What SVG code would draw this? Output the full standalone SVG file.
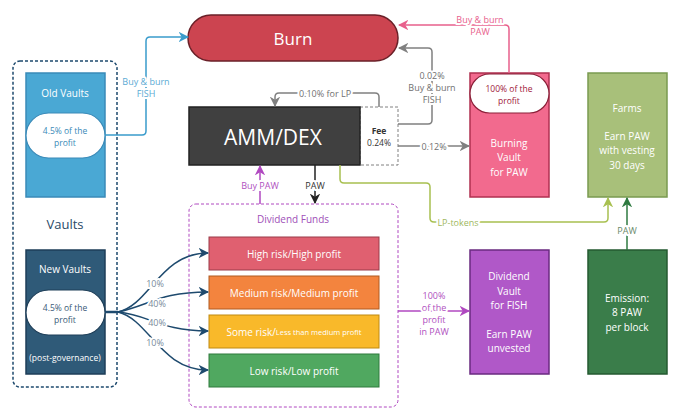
<svg xmlns="http://www.w3.org/2000/svg" width="680" height="420" viewBox="0 0 680 420">
<defs>
<style>
text{font-family:"Open Sans","Noto Sans","DejaVu Sans",sans-serif;text-anchor:middle;dominant-baseline:central}
.w{fill:#fff}
.lbl{font-size:9px;paint-order:stroke;stroke:#fff;stroke-width:4px;stroke-linejoin:round}
.box{stroke-width:1.5}
</style>
<marker id="aBlue" viewBox="0 0 10 10" refX="9" refY="5" markerWidth="7" markerHeight="7" orient="auto-start-reverse"><path d="M0,0 L10,5 L0,10 L3,5 z" fill="#3a9ccc"/></marker>
<marker id="aGray" viewBox="0 0 10 10" refX="9" refY="5" markerWidth="7" markerHeight="7" orient="auto-start-reverse"><path d="M0,0 L10,5 L0,10 L3,5 z" fill="#808080"/></marker>
<marker id="aPink" viewBox="0 0 10 10" refX="9" refY="5" markerWidth="7" markerHeight="7" orient="auto-start-reverse"><path d="M0,0 L10,5 L0,10 L3,5 z" fill="#e8608c"/></marker>
<marker id="aPurple" viewBox="0 0 10 10" refX="9" refY="5" markerWidth="7" markerHeight="7" orient="auto-start-reverse"><path d="M0,0 L10,5 L0,10 L3,5 z" fill="#b048c0"/></marker>
<marker id="aBlack" viewBox="0 0 10 10" refX="9" refY="5" markerWidth="7" markerHeight="7" orient="auto-start-reverse"><path d="M0,0 L10,5 L0,10 L3,5 z" fill="#222"/></marker>
<marker id="aNavy" viewBox="0 0 10 10" refX="9" refY="5" markerWidth="7" markerHeight="7" orient="auto-start-reverse"><path d="M0,0 L10,5 L0,10 L3,5 z" fill="#1e4a6e"/></marker>
<marker id="aLime" viewBox="0 0 10 10" refX="9" refY="5" markerWidth="7" markerHeight="7" orient="auto-start-reverse"><path d="M0,0 L10,5 L0,10 L3,5 z" fill="#a8c050"/></marker>
<marker id="aGreen" viewBox="0 0 10 10" refX="9" refY="5" markerWidth="7" markerHeight="7" orient="auto-start-reverse"><path d="M0,0 L10,5 L0,10 L3,5 z" fill="#2e7a40"/></marker>
</defs>
<rect width="680" height="420" fill="#fff"/>

<g id="vaults-group">
<rect x="13" y="61" width="104" height="326" rx="7" fill="none" stroke="#1e4a6e" stroke-width="1.5" stroke-dasharray="3,2"/>
<text x="65" y="224" font-size="13" fill="#2a4a68">Vaults</text>
</g>

<g id="old-vaults">
<rect x="26" y="73" width="79" height="124" fill="#4aa8d4" stroke="#3a8ab8" class="box"/>
<text x="65" y="93" font-size="10" class="w">Old Vaults</text>
<rect x="26" y="113" width="79" height="45" rx="22.5" fill="#fff" stroke="#3a8ab8" stroke-width="1.2"/>
<text x="65" y="130" font-size="8.5" fill="#3a8ab8">4.5% of the</text>
<text x="65" y="142" font-size="8.5" fill="#3a8ab8">profit</text>
</g>

<g id="new-vaults">
<rect x="26" y="250" width="79" height="124" fill="#2f5a78" stroke="#1e3e58" class="box"/>
<text x="65" y="269" font-size="10" class="w">New Vaults</text>
<rect x="26" y="290" width="79" height="45" rx="22.5" fill="#fff" stroke="#1e3e58" stroke-width="1.2"/>
<text x="65" y="307" font-size="8.5" fill="#3a5a78">4.5% of the</text>
<text x="65" y="319" font-size="8.5" fill="#3a5a78">profit</text>
<text x="65" y="357" font-size="8.5" class="w">(post-governance)</text>
</g>

<g id="burn">
<rect x="188" y="15" width="210" height="46" rx="23" fill="#cc4450" stroke="#6a2028" class="box"/>
<text x="293" y="38" font-size="17" class="w">Burn</text>
</g>

<g id="amm-dex">
<rect x="360" y="107" width="38" height="58" fill="#fff" stroke="#808080" stroke-width="1" stroke-dasharray="3,2"/>
<rect x="189" y="107" width="171" height="58" fill="#404040" stroke="#222" class="box"/>
<text x="273" y="137" font-size="21" class="w">AMM/DEX</text>
<text x="379" y="130" font-size="8.5" fill="#333" font-weight="bold">Fee</text>
<text x="379" y="142" font-size="8.5" fill="#333">0.24%</text>
</g>

<g id="burning-vault">
<rect x="470" y="73" width="79" height="124" fill="#f26a8e" stroke="#b03050" class="box"/>
<rect x="470" y="74" width="79" height="39" rx="19.5" fill="#fff" stroke="#8a2038" stroke-width="1.2"/>
<text x="509" y="88" font-size="8.5" fill="#a0203a">100% of the</text>
<text x="509" y="100" font-size="8.5" fill="#a0203a">profit</text>
<text x="509" y="143" font-size="10" class="w">Burning</text>
<text x="509" y="157" font-size="10" class="w">Vault</text>
<text x="509" y="172" font-size="10" class="w">for PAW</text>
</g>

<g id="farms">
<rect x="588" y="73" width="79" height="124" fill="#a8c07a" stroke="#7a9a50" class="box"/>
<text x="627" y="108" font-size="10" class="w">Farms</text>
<text x="627" y="136" font-size="10" class="w">Earn PAW</text>
<text x="627" y="150" font-size="10" class="w">with vesting</text>
<text x="627" y="165" font-size="10" class="w">30 days</text>
</g>

<g id="emission">
<rect x="588" y="250" width="79" height="124" fill="#3a7d4a" stroke="#245a30" class="box"/>
<text x="627" y="298" font-size="10" class="w">Emission:</text>
<text x="627" y="312" font-size="10" class="w">8 PAW</text>
<text x="627" y="327" font-size="10" class="w">per block</text>
</g>

<g id="dividend-vault">
<rect x="470" y="250" width="79" height="124" fill="#b058c8" stroke="#6a2a80" class="box"/>
<text x="509" y="276" font-size="10" class="w">Dividend</text>
<text x="509" y="291" font-size="10" class="w">Vault</text>
<text x="509" y="305" font-size="10" class="w">for FISH</text>
<text x="509" y="334" font-size="10" class="w">Earn PAW</text>
<text x="509" y="348" font-size="10" class="w">unvested</text>
</g>

<g id="dividend-funds">
<rect x="189" y="204" width="209" height="203" rx="7" fill="none" stroke="#b048c0" stroke-width="1" stroke-dasharray="3,2"/>
<text x="293" y="219" font-size="10" fill="#a050b8">Dividend Funds</text>
</g>
<g id="high-risk">
<rect x="209" y="237" width="170" height="33" fill="#e06070" stroke="#9a3a48" stroke-width="1"/>
<text x="294" y="253.5" font-size="10" class="w">High risk/High profit</text>
</g>
<g id="medium-risk">
<rect x="209" y="276" width="170" height="33" fill="#f3843e" stroke="#b05a20" stroke-width="1"/>
<text x="294" y="292.5" font-size="10" class="w">Medium risk/Medium profit</text>
</g>
<g id="some-risk">
<rect x="209" y="315" width="170" height="33" fill="#f9b92a" stroke="#c08a10" stroke-width="1"/>
<text x="294" y="331.5" font-size="10" class="w">Some risk/<tspan font-size="7.5">Less than medium profit</tspan></text>
</g>
<g id="low-risk">
<rect x="209" y="354" width="170" height="33" fill="#50a860" stroke="#2e7a3c" stroke-width="1"/>
<text x="294" y="370.5" font-size="10" class="w">Low risk/Low profit</text>
</g>

<g id="connectors" fill="none" stroke-width="1.5">
<path d="M105,135 H142 Q146,135 146,131 V41 Q146,37 150,37 H188" stroke="#3a9ccc" marker-end="url(#aBlue)"/>
<path d="M379,107 V97 Q379,93 375,93 H279 Q275,93 275,97 V106" stroke="#808080" marker-end="url(#aGray)"/>
<path d="M398,124 H428 Q432,124 432,120 V52 Q432,48 428,48 H399" stroke="#808080" marker-end="url(#aGray)"/>
<path d="M398,146 H469" stroke="#808080" marker-end="url(#aGray)"/>
<path d="M509,73 V29 Q509,25 505,25 H399" stroke="#e8608c" marker-end="url(#aPink)"/>
<path d="M627,250 V198" stroke="#2e7a40" marker-end="url(#aGreen)"/>
<path d="M340,165 V179 Q340,183 344,183 H426 Q430,183 430,187 V218 Q430,222 434,222 H604 Q608,222 608,218 V198" stroke="#a8c050" marker-end="url(#aLime)"/>
<path d="M260,204 V166" stroke="#b048c0" marker-end="url(#aPurple)"/>
<path d="M315,165 V203" stroke="#222" marker-end="url(#aBlack)"/>
<path d="M398,311 H469" stroke="#b048c0" marker-end="url(#aPurple)"/>
<path d="M105,312 H118" stroke="#1e4a6e" stroke-width="2.5"/>
<path d="M118,312 C150,305 160,253 208,253" stroke="#1e4a6e" marker-end="url(#aNavy)"/>
<path d="M118,312 C150,305 160,292 208,292" stroke="#1e4a6e" marker-end="url(#aNavy)"/>
<path d="M118,312 C150,315 160,331 208,331" stroke="#1e4a6e" marker-end="url(#aNavy)"/>
<path d="M118,312 C150,320 160,370 208,370" stroke="#1e4a6e" marker-end="url(#aNavy)"/>
</g>

<g id="labels">
<text x="146" y="81" class="lbl" fill="#5aaad4">Buy &amp; burn</text>
<text x="146" y="93" class="lbl" fill="#5aaad4">FISH</text>
<text x="325" y="93" class="lbl" fill="#707070">0.10% for LP</text>
<text x="432" y="75" class="lbl" fill="#707070">0.02%</text>
<text x="432" y="87" class="lbl" fill="#707070">Buy &amp; burn</text>
<text x="432" y="99" class="lbl" fill="#707070">FISH</text>
<text x="434" y="146" class="lbl" fill="#707070">0.12%</text>
<text x="480" y="19" class="lbl" fill="#e8608c">Buy &amp; burn</text>
<text x="480" y="31" class="lbl" fill="#e8608c">PAW</text>
<text x="627" y="230" class="lbl" fill="#6a8a6a">PAW</text>
<text x="458" y="222" class="lbl" fill="#a0b860">LP-tokens</text>
<text x="260" y="185" class="lbl" fill="#b050c0">Buy PAW</text>
<text x="315" y="185" class="lbl" fill="#333">PAW</text>
<text x="434" y="295" class="lbl" fill="#b050c0">100%</text>
<text x="434" y="307" class="lbl" fill="#b050c0">of the</text>
<text x="434" y="319" class="lbl" fill="#b050c0">profit</text>
<text x="434" y="331" class="lbl" fill="#b050c0">in PAW</text>
<text x="155" y="283" class="lbl" fill="#7a8a9a">10%</text>
<text x="157" y="303" class="lbl" fill="#7a8a9a">40%</text>
<text x="157" y="322" class="lbl" fill="#7a8a9a">40%</text>
<text x="155" y="342" class="lbl" fill="#7a8a9a">10%</text>
</g>
</svg>
